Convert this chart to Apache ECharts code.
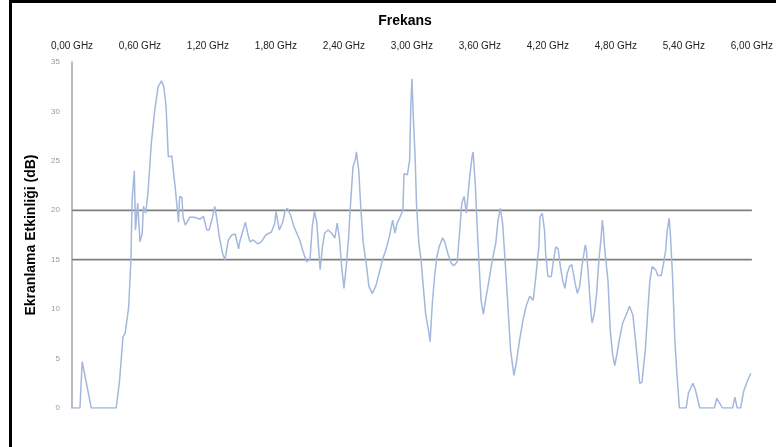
<!DOCTYPE html>
<html>
<head>
    <meta charset="utf-8" />
    <script src="https://cdn.jsdelivr.net/npm/echarts@6/dist/echarts.min.js"></script>
    <style>
        body { margin: 0; background: #fff; }
        #chart { width: 776px; height: 447px; }
    </style>
</head>
<body>
    <div id="chart"></div>
    <script>
        // frekans (GHz)
        var freqGHz = [
            0.00, 0.07, 0.09, 0.17, 0.39, 0.42, 0.45, 0.47, 0.50, 0.52,
            0.53, 0.55, 0.56, 0.58, 0.60, 0.62, 0.63, 0.65, 0.67, 0.70,
            0.73, 0.76, 0.79, 0.81, 0.83, 0.85, 0.88, 0.91, 0.94, 0.95,
            0.97, 0.98, 1.00, 1.04, 1.08, 1.13, 1.16, 1.19, 1.21, 1.24,
            1.26, 1.28, 1.30, 1.33, 1.35, 1.38, 1.41, 1.44, 1.47, 1.48,
            1.51, 1.53, 1.55, 1.57, 1.60, 1.64, 1.67, 1.71, 1.76, 1.79,
            1.80, 1.83, 1.86, 1.88, 1.90, 1.93, 1.96, 2.01, 2.04, 2.07,
            2.10, 2.12, 2.14, 2.16, 2.19, 2.21, 2.23, 2.26, 2.29, 2.32,
            2.34, 2.36, 2.38, 2.40, 2.42, 2.44, 2.46, 2.48, 2.50, 2.51,
            2.53, 2.55, 2.57, 2.60, 2.62, 2.65, 2.68, 2.71, 2.74, 2.77,
            2.80, 2.83, 2.85, 2.87, 2.89, 2.92, 2.93, 2.96, 2.98, 2.99,
            3.00, 3.01, 3.03, 3.04, 3.06, 3.08, 3.10, 3.12, 3.15, 3.16,
            3.18, 3.20, 3.22, 3.24, 3.27, 3.29, 3.32, 3.35, 3.37, 3.40,
            3.42, 3.44, 3.46, 3.48, 3.49, 3.51, 3.53, 3.54, 3.56, 3.57,
            3.59, 3.61, 3.63, 3.65, 3.68, 3.71, 3.74, 3.76, 3.78, 3.80,
            3.82, 3.84, 3.87, 3.90, 3.92, 3.95, 3.98, 4.01, 4.04, 4.07,
            4.09, 4.12, 4.13, 4.15, 4.17, 4.18, 4.20, 4.23, 4.25, 4.27,
            4.29, 4.31, 4.33, 4.35, 4.37, 4.39, 4.41, 4.43, 4.44, 4.46,
            4.48, 4.50, 4.53, 4.54, 4.56, 4.58, 4.59, 4.61, 4.63, 4.65,
            4.67, 4.68, 4.69, 4.70, 4.73, 4.75, 4.77, 4.79, 4.81, 4.83,
            4.86, 4.89, 4.92, 4.95, 4.97, 4.99, 5.01, 5.03, 5.06, 5.08,
            5.10, 5.12, 5.15, 5.17, 5.20, 5.22, 5.24, 5.25, 5.27, 5.28,
            5.30, 5.32, 5.34, 5.36, 5.42, 5.44, 5.48, 5.50, 5.54, 5.67,
            5.69, 5.74, 5.83, 5.85, 5.87, 5.90, 5.93, 5.96, 5.99
        ];
        // ekranlama etkinligi (dB)
        var shieldingDb = [
            0, 0, 4.7, 0, 0, 2.8, 7.2, 7.6, 10.2, 15,
            21, 24, 18, 20.7, 16.8, 17.7, 20.4, 19.7, 21.7, 26.8,
            30.1, 32.5, 33.1, 32.5, 30.5, 25.4, 25.5, 22.4, 18.8, 21.4,
            21.3, 19.3, 18.5, 19.3, 19.3, 19.1, 19.4, 18, 18, 19.3,
            20.4, 19, 17.3, 15.6, 15.0, 17, 17.5, 17.6, 16.1, 16.8,
            18, 18.8, 17.7, 16.8, 17.0, 16.6, 16.8, 17.5, 17.8, 18.7,
            19.9, 18, 18.8, 19.9, 20.2, 19.5, 18.3, 17, 15.8, 14.8,
            15.0, 18.3, 19.9, 18.8, 14, 16.3, 17.7, 18, 17.7, 17.2,
            18.7, 17.2, 14.3, 12.1, 14.3, 17.1, 21, 24.4, 25.1, 25.9,
            24.1, 20, 16.7, 14.3, 12.3, 11.6, 12.3, 13.6, 15, 16,
            17.3, 19, 17.7, 18.7, 19.2, 20, 23.7, 23.6, 25.1, 30.5,
            33.3, 30.1, 24.7, 20.7, 16.8, 15, 12.3, 9.6, 7.6, 6.7,
            10.6, 13.3, 15.3, 16.3, 17.2, 16.8, 15.5, 14.6, 14.4, 14.8,
            17.7, 20.7, 21.4, 19.7, 21, 23.4, 25.4, 25.9, 22.4, 19.7,
            15, 10.9, 9.5, 10.9, 12.9, 15, 16.7, 19, 20.2, 18.7,
            15.3, 11.6, 5.9, 3.3, 4.5, 6.9, 8.9, 10.4, 11.3, 10.9,
            12.9, 16.3, 19.3, 19.7, 18, 15.6, 13.3, 13.3, 15, 16.3,
            16.1, 14.3, 12.9, 12.1, 13.6, 14.3, 14.5, 13.3, 12.6, 11.6,
            12.3, 14.3, 16.5, 16, 12.9, 9.6, 8.6, 9.6, 11.6, 15,
            17.3, 19, 18, 16.2, 12.9, 7.9, 5.5, 4.3, 5.5, 6.9,
            8.6, 9.4, 10.3, 9.4, 7.2, 4.9, 2.5, 2.6, 5.9, 9.6,
            12.9, 14.3, 14.0, 13.4, 13.4, 14.6, 16, 17.7, 19.2, 17.7,
            13.3, 6.9, 3.2, 0, 0, 1.5, 2.5, 1.9, 0, 0,
            1.0, 0, 0, 1.1, 0, 0, 1.8, 2.7, 3.5
        ];
        // sinir cizgileri
        var limitFreq = [0, 6];
        var lowerLimit = [15, 15];
        var upperLimit = [20, 20];

        function pairs(xs, ys) {
            var out = []
            for (var i = 0; i < xs.length; i++) {
                out.push([xs[i], ys[i]])
            }
            return out
        }

        var chart = echarts.init(document.getElementById('chart'))

        var option = {
            backgroundColor: '#fff',
            animation: false,
            title: {
                text: 'Frekans',
                left: 400,
                top: 9,
                textAlign: 'center',
                textStyle: {
                    fontFamily: 'Liberation Sans',
                    fontSize: 14,
                    fontWeight: 'bold',
                    color: '#000'
                }
            },
            grid: {
                left: 72,
                right: 23,
                top: 62,
                bottom: 39
            },
            xAxis: {
                type: 'value',
                position: 'top',
                min: 0,
                max: 6,
                interval: 0.6,
                axisLine: { show: false },
                axisTick: { show: false },
                splitLine: { show: false },
                axisLabel: {
                    margin: 11,
                    fontFamily: 'Liberation Sans',
                    fontSize: 10,
                    color: '#222',
                    formatter: function (v) {
                        return v.toFixed(2).replace('.', ',') + ' GHz'
                    }
                }
            },
            yAxis: {
                type: 'value',
                min: 0,
                max: 35,
                interval: 5,
                name: 'Ekranlama Etkinliği (dB)',
                nameLocation: 'middle',
                nameGap: 34,
                nameTextStyle: {
                    fontFamily: 'Liberation Sans',
                    fontSize: 14,
                    fontWeight: 'bold',
                    color: '#000'
                },
                axisLine: { show: true, lineStyle: { color: '#a6a6a6', width: 1.5 } },
                axisTick: { show: false },
                splitLine: { show: false },
                axisLabel: {
                    margin: 12,
                    fontFamily: 'Liberation Sans',
                    fontSize: 8,
                    color: '#9a9a9a'
                }
            },
            series: [
                {
                    name: 'alt sinir',
                    type: 'line',
                    symbol: 'none',
                    lineStyle: { color: '#7f7f7f', width: 1.8 },
                    data: pairs(limitFreq, lowerLimit)
                },
                {
                    name: 'ust sinir',
                    type: 'line',
                    symbol: 'none',
                    lineStyle: { color: '#7f7f7f', width: 1.8 },
                    data: pairs(limitFreq, upperLimit)
                },
                {
                    name: 'olcum',
                    type: 'line',
                    symbol: 'none',
                    lineStyle: { color: '#a3b8dc', width: 1.5 },
                    data: pairs(freqGHz, shieldingDb)
                }
            ],
            graphic: [
                {
                    type: 'line',
                    shape: { x1: 10.5, y1: 0, x2: 10.5, y2: 447 },
                    style: { stroke: '#000', lineWidth: 3 }
                },
                {
                    type: 'line',
                    shape: { x1: 9, y1: 1.5, x2: 776, y2: 1.5 },
                    style: { stroke: '#000', lineWidth: 3 }
                }
            ]
        };

        chart.setOption(option);
    </script>
</body>
</html>
